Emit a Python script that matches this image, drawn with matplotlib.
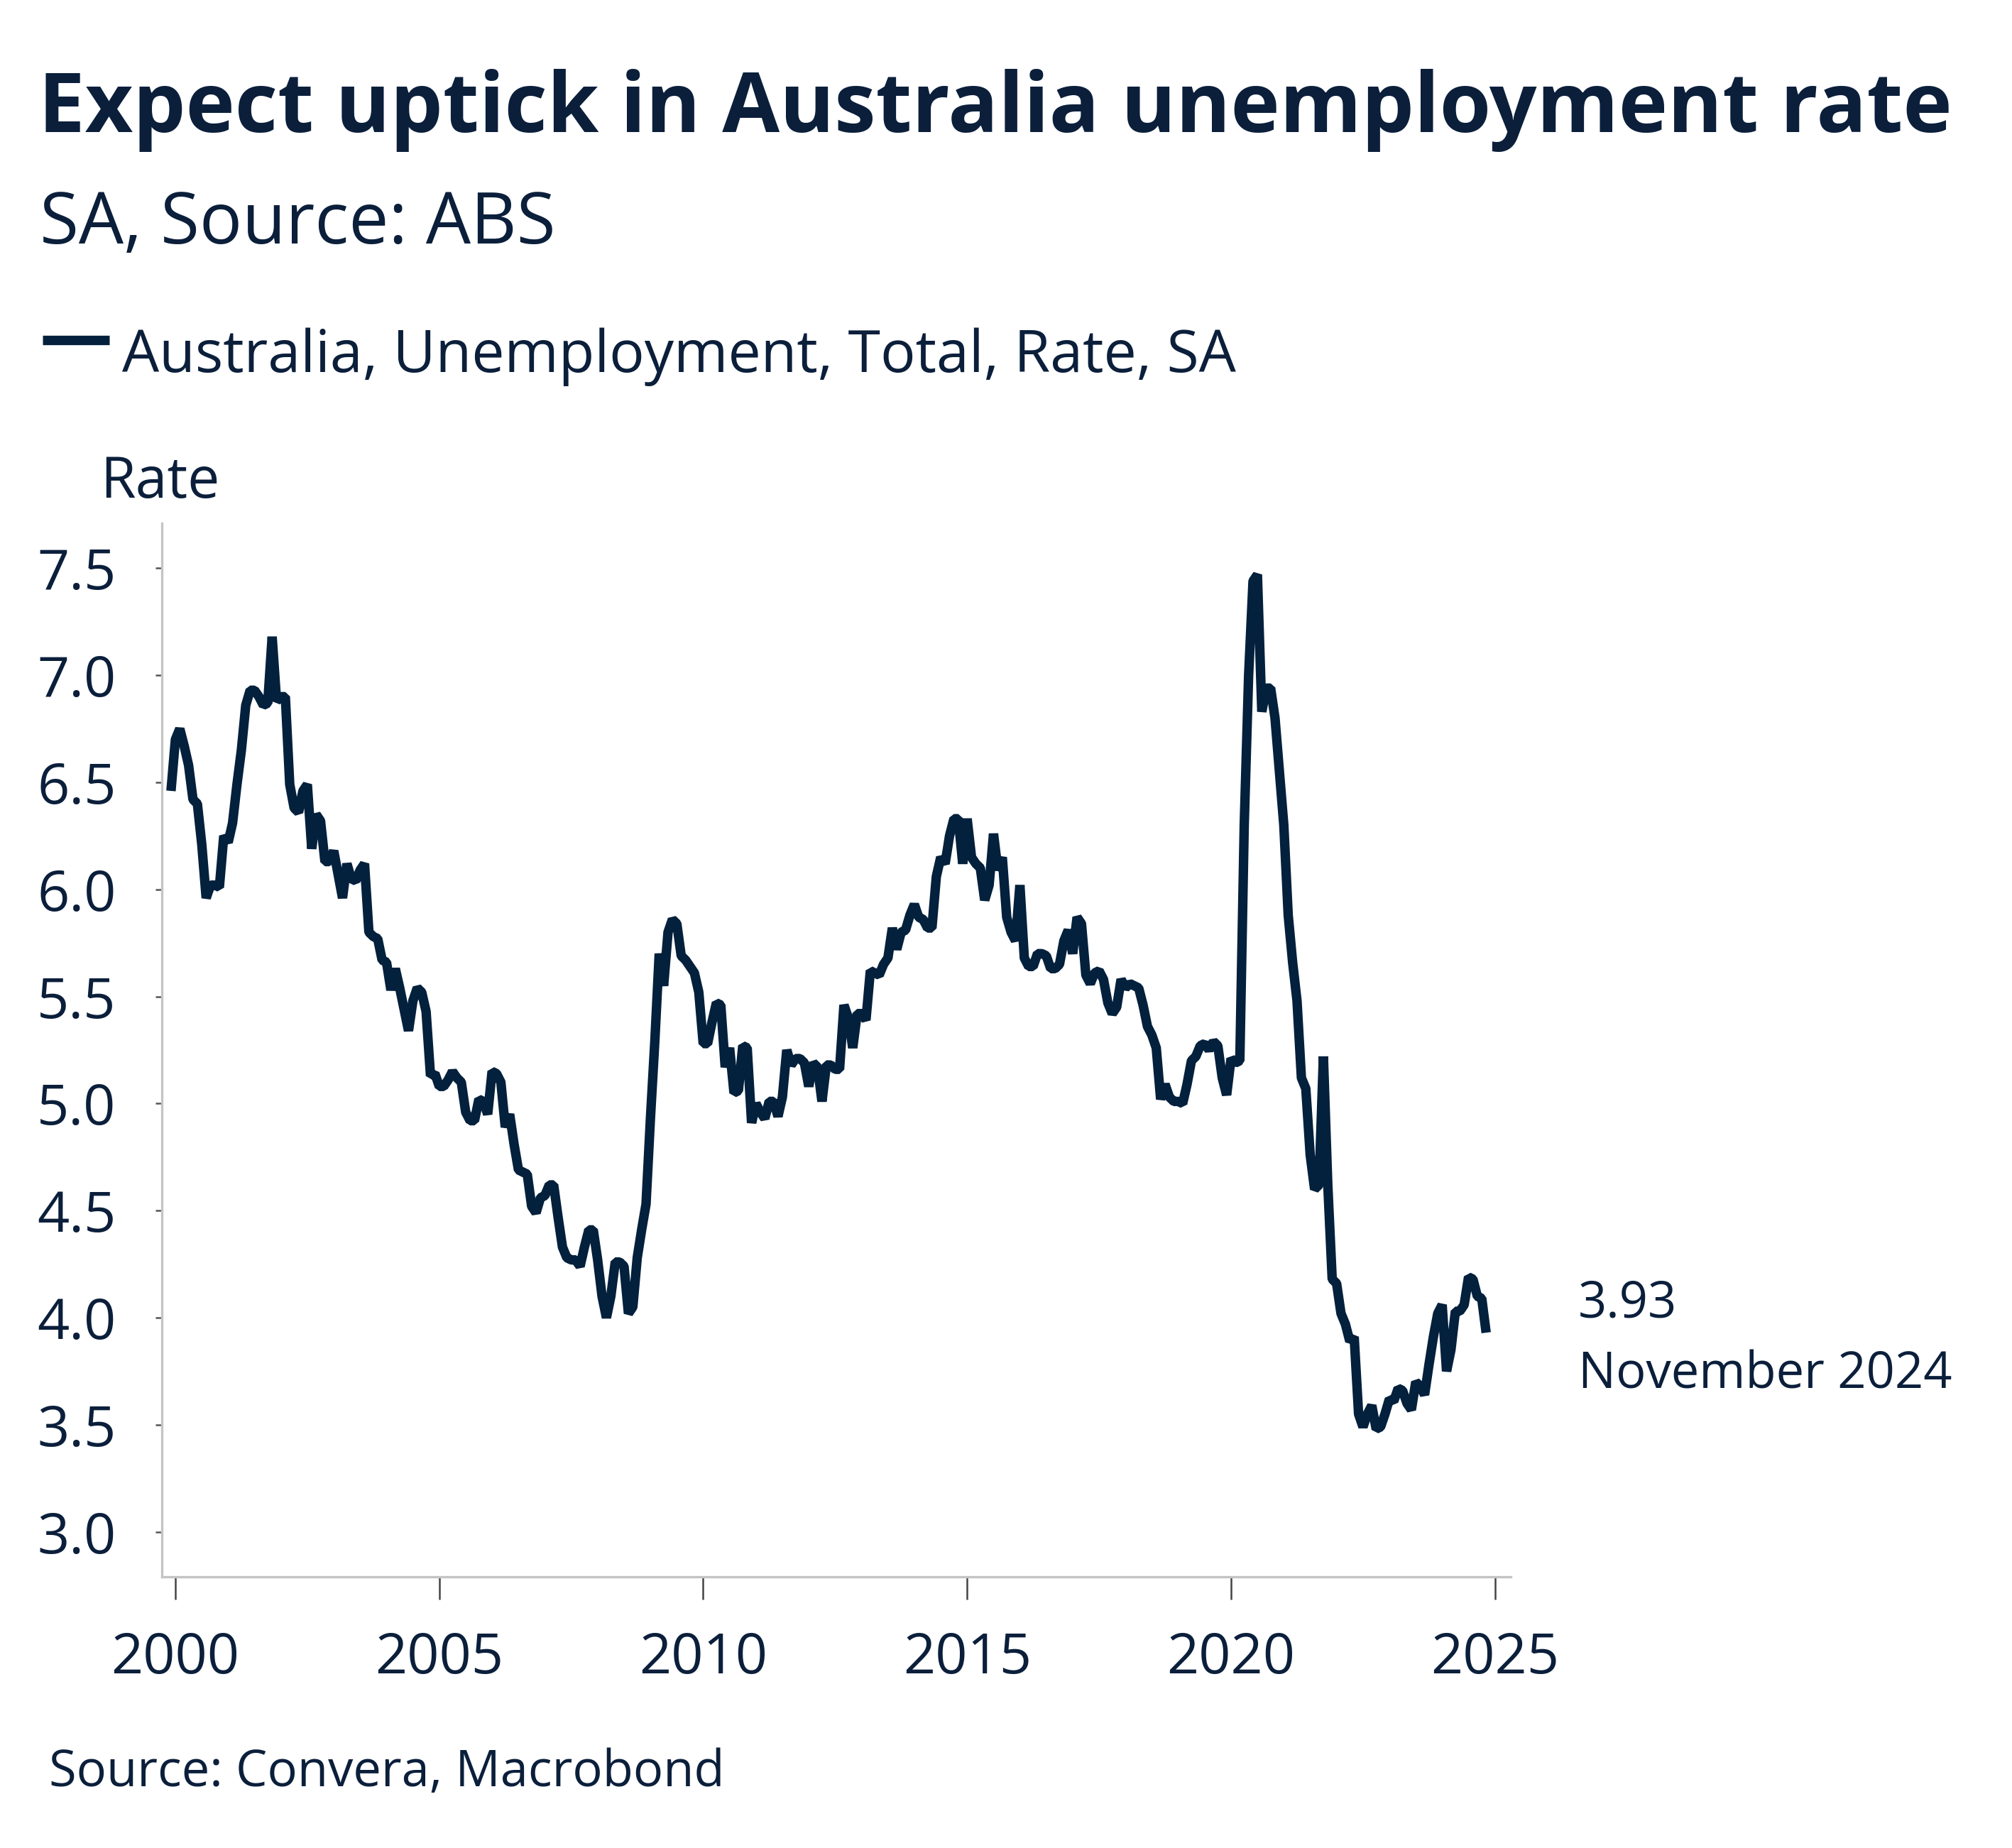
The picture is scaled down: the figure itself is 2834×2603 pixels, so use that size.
import matplotlib
matplotlib.use("Agg")
import matplotlib.pyplot as plt
import numpy as np

# ---------------- data (monthly, Dec 1999 .. Nov 2024) ----------------
start_year, start_month = 1999, 12
rate_1999 = [6.46]
rate_2000 = [6.70, 6.75, 6.67, 6.58, 6.42, 6.40, 6.21, 5.96, 6.02, 6.02, 6.01, 6.25]
rate_2001 = [6.22, 6.31, 6.49, 6.65, 6.86, 6.93, 6.93, 6.90, 6.86, 6.87, 7.18, 6.88]
rate_2002 = [6.90, 6.90, 6.49, 6.38, 6.36, 6.46, 6.49, 6.19, 6.35, 6.32, 6.13, 6.13]
rate_2003 = [6.18, 6.07, 5.96, 6.12, 6.05, 6.04, 6.09, 6.12, 5.80, 5.78, 5.77, 5.67]
rate_2004 = [5.66, 5.53, 5.63, 5.54, 5.44, 5.34, 5.48, 5.54, 5.52, 5.43, 5.13, 5.14]
rate_2005 = [5.08, 5.08, 5.11, 5.15, 5.12, 5.10, 4.96, 4.92, 4.92, 5.02, 5.01, 4.95]
rate_2006 = [5.15, 5.14, 5.10, 4.89, 4.95, 4.81, 4.69, 4.68, 4.67, 4.52, 4.49, 4.56]
rate_2007 = [4.57, 4.62, 4.62, 4.47, 4.33, 4.28, 4.27, 4.27, 4.24, 4.33, 4.41, 4.41]
rate_2008 = [4.27, 4.10, 4.00, 4.10, 4.26, 4.26, 4.24, 4.02, 4.05, 4.28, 4.41, 4.53]
rate_2009 = [4.93, 5.29, 5.70, 5.55, 5.80, 5.86, 5.84, 5.69, 5.67, 5.64, 5.61, 5.52]
rate_2010 = [5.28, 5.28, 5.38, 5.47, 5.46, 5.17, 5.26, 5.05, 5.06, 5.27, 5.26, 4.91]
rate_2011 = [5.00, 4.96, 4.93, 5.01, 5.01, 4.94, 5.03, 5.25, 5.18, 5.21, 5.21, 5.19]
rate_2012 = [5.08, 5.19, 5.17, 5.01, 5.18, 5.18, 5.16, 5.16, 5.46, 5.40, 5.26, 5.42]
rate_2013 = [5.42, 5.39, 5.62, 5.61, 5.60, 5.65, 5.68, 5.82, 5.72, 5.80, 5.81, 5.88]
rate_2014 = [5.93, 5.87, 5.86, 5.82, 5.82, 6.06, 6.15, 6.12, 6.25, 6.33, 6.33, 6.12]
rate_2015 = [6.33, 6.15, 6.12, 6.10, 5.95, 6.02, 6.26, 6.09, 6.15, 5.87, 5.80, 5.76]
rate_2016 = [6.02, 5.68, 5.64, 5.64, 5.70, 5.70, 5.69, 5.63, 5.63, 5.65, 5.76, 5.81]
rate_2017 = [5.70, 5.87, 5.84, 5.60, 5.56, 5.61, 5.62, 5.58, 5.47, 5.42, 5.45, 5.58]
rate_2018 = [5.54, 5.56, 5.55, 5.54, 5.46, 5.36, 5.32, 5.26, 5.02, 5.09, 5.03, 5.01]
rate_2019 = [5.01, 5.00, 5.09, 5.20, 5.22, 5.27, 5.28, 5.25, 5.29, 5.27, 5.12, 5.04]
rate_2020 = [5.21, 5.19, 5.20, 6.30, 7.00, 7.44, 7.47, 6.83, 6.94, 6.94, 6.80, 6.55]
rate_2021 = [6.30, 5.88, 5.66, 5.48, 5.12, 5.07, 4.76, 4.60, 4.62, 5.22, 4.62, 4.18]
rate_2022 = [4.16, 4.02, 3.97, 3.89, 3.91, 3.55, 3.49, 3.55, 3.59, 3.48, 3.49, 3.55]
rate_2023 = [3.62, 3.61, 3.67, 3.66, 3.60, 3.57, 3.70, 3.68, 3.64, 3.78, 3.91, 4.02]
rate_2024 = [4.06, 3.75, 3.85, 4.03, 4.03, 4.06, 4.19, 4.18, 4.10, 4.09, 3.93]

x_ticks = [2000, 2005, 2010, 2015, 2020, 2025]
y_ticks = [3.0, 3.5, 4.0, 4.5, 5.0, 5.5, 6.0, 6.5, 7.0, 7.5]

title = "Expect uptick in Australia unemployment rate"
subtitle = "SA, Source: ABS"
series_name = "Australia, Unemployment, Total, Rate, SA"
axis_label = "Rate"
last_value_label = "3.93"
last_date_label = "November 2024"
footer = "Source: Convera, Macrobond"

# ---------------- build series ----------------
values = (rate_1999 + rate_2000 + rate_2001 + rate_2002 + rate_2003 + rate_2004 +
          rate_2005 + rate_2006 + rate_2007 + rate_2008 + rate_2009 + rate_2010 +
          rate_2011 + rate_2012 + rate_2013 + rate_2014 + rate_2015 + rate_2016 +
          rate_2017 + rate_2018 + rate_2019 + rate_2020 + rate_2021 + rate_2022 +
          rate_2023 + rate_2024)
t0 = start_year + (start_month - 1) / 12.0
dates = t0 + np.arange(len(values)) / 12.0

# ---------------- style ----------------
NAVY = "#0b1f3b"
LINE = "#03203c"
FONT = ["Open Sans", "DejaVu Sans"]
plt.rcParams["font.family"] = FONT

W, H = 2834, 2603
DPI = 200
fig = plt.figure(figsize=(W / DPI, H / DPI), dpi=DPI)
fig.patch.set_facecolor("white")

def fx(px):
    return px / W

def fy(py):
    return 1 - py / H

ax_left, ax_right, ax_top, ax_bottom = 228, 2128, 737, 2221
ax = fig.add_axes([fx(ax_left), fy(ax_bottom), (ax_right - ax_left) / W, (ax_bottom - ax_top) / H])

ax.plot(dates, values, color=LINE, lw=4.8, solid_joinstyle="bevel", solid_capstyle="butt")

ax.set_xlim(1999.744, 2025.3)
ax.set_ylim(2.79, 7.71)
ax.set_xticks(x_ticks)
ax.set_xticklabels([str(v) for v in x_ticks])
ax.set_yticks(y_ticks)
ax.set_yticklabels([f"{v:.1f}" for v in y_ticks])

for s in ["top", "right"]:
    ax.spines[s].set_visible(False)
for s in ["left", "bottom"]:
    ax.spines[s].set_color("#c4c4c4")
    ax.spines[s].set_linewidth(1.2)

ax.tick_params(axis="x", direction="out", length=11.5, width=0.9, color="#444444",
               labelsize=28.5, labelcolor=NAVY, pad=16)
ax.tick_params(axis="y", direction="out", length=3.2, width=0.9, color="#555555",
               labelsize=28.5, labelcolor=NAVY, pad=20)

# ---------------- texts ----------------
fig.text(fx(54), fy(186), title, fontsize=42.2, fontweight="bold", color=NAVY, ha="left", va="baseline")
fig.text(fx(56), fy(343), subtitle, fontsize=36, color=NAVY, ha="left", va="baseline")

# legend
fig.add_artist(plt.Line2D([fx(60), fx(154)], [fy(479), fy(479)], color=LINE, lw=4.8,
                          solid_capstyle="butt", transform=fig.transFigure))
fig.text(fx(172), fy(524), series_name, fontsize=29.7, color=NAVY, ha="left", va="baseline")

fig.text(fx(141), fy(701), axis_label, fontsize=29, color=NAVY, ha="left", va="baseline")

fig.text(fx(2223), fy(1856), last_value_label, fontsize=25.4, color=NAVY, ha="left", va="baseline")
fig.text(fx(2223), fy(1956), last_date_label, fontsize=25.4, color=NAVY, ha="left", va="baseline")

fig.text(fx(69), fy(2516), footer, fontsize=25.4, color=NAVY, ha="left", va="baseline")

fig.savefig("out.png", dpi=DPI, facecolor="white")
